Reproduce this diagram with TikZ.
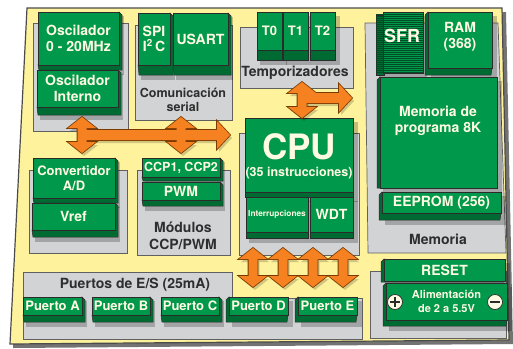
\documentclass[tikz,border=0pt]{standalone}
\usepackage{fontspec}
\setmainfont{TeX Gyre Heros}
\definecolor{bgy}{HTML}{FEF29C}
\definecolor{pan}{HTML}{D1D3D4}
\definecolor{grn}{HTML}{00984A}
\definecolor{grndk}{HTML}{006A33}
\definecolor{edge}{HTML}{2B2B2B}
\definecolor{cream}{HTML}{FFFBE3}
\definecolor{org}{HTML}{F68121}
\definecolor{orgdk}{HTML}{7A3A00}
\definecolor{lbl}{HTML}{2E2E2E}
\tikzset{
  panel/.style={fill=pan, draw=edge!75, line width=0.7pt},
  shade/.style={fill=black, opacity=0.22},
  side/.style={fill=grndk, draw=edge, line width=0.5pt},
  gb/.style={fill=grn, draw=edge, line width=0.5pt, text=cream, align=center, inner sep=0pt, outer sep=0pt},
  txt/.style={text=cream, align=center, inner sep=0pt},
  plbl/.style={text=lbl, align=center, inner sep=0pt},
  f8/.style={font=\bfseries\fontsize{8.3}{9}\selectfont},
  f11/.style={font=\bfseries\fontsize{11}{14.5}\selectfont},
  f12/.style={font=\bfseries\fontsize{12.5}{14}\selectfont},
  f13/.style={font=\bfseries\fontsize{13}{15}\selectfont},
  f14/.style={font=\bfseries\fontsize{14}{15.5}\selectfont},
  f14b/.style={font=\bfseries\fontsize{14}{16.5}\selectfont},
  f18/.style={font=\bfseries\fontsize{18}{20}\selectfont},
  f34/.style={font=\bfseries\fontsize{35}{38}\selectfont},
}
% name, x1, y1, x2, y2, depth, side (1 right, -1 left, 0 none), font style, text
\newcommand\gbox[9]{%
  \fill[shade] (#2+3,#3+4) rectangle (#4+5,#5+#6+5);
  \ifnum#7=1 \filldraw[side] (#2,#5) -- (#2+1,#5+#6) -- (#4+3,#5+#6) -- (#4+3,#3+3) -- (#4,#3) -- cycle;\fi
  \ifnum#7=-1 \filldraw[side] (#4,#5) -- (#4-1,#5+#6) -- (#2-3,#5+#6) -- (#2-3,#3+3) -- (#2,#3) -- cycle;\fi
  \ifnum#7=0 \filldraw[side] (#2,#5) -- (#2,#5+#6) -- (#4,#5+#6) -- (#4,#5) -- cycle;\fi
  \node[gb,#8, minimum width=#4-#2, minimum height=#5-#3] (#1) at ({(#2+#4)/2},{(#3+#5)/2}) {#9};
}
\newcommand\varr[4]{\path[#4] (#1,#2) -- (#1+14,#2+11) -- (#1+4.5,#2+11) -- (#1+4.5,#3-11) -- (#1+14,#3-11) -- (#1,#3) -- (#1-14,#3-11) -- (#1-4.5,#3-11) -- (#1-4.5,#2+11) -- (#1-14,#2+11) -- cycle;}
\newcommand\harr[4]{\path[#4] (#1,#3-5) -- (#2-13,#3-5) -- (#2-13,#3-14) -- (#2,#3) -- (#2-13,#3+14) -- (#2-13,#3+5) -- (#1,#3+5) -- cycle;}
\newcommand\allarrows[1]{%
  \varr{82}{117}{153}{#1}\varr{181}{117}{153}{#1}\harr{82}{230}{135}{#1}%
  \varr{302}{82}{118}{#1}\harr{302}{352}{98}{#1}%
  \foreach \ax in {253,283,313,343}{\varr{\ax}{248}{287}{#1}}}
\begin{document}
\begin{tikzpicture}[x=1pt,y=-1pt]
\useasboundingbox (0,0) rectangle (513,348);
% outer frame
\fill[black!55] (30,12) -- (506,12) -- (513,344) -- (13,348) -- cycle;
\filldraw[fill=bgy, draw=edge!85, line width=1.2pt] (27,8) -- (502,8) -- (509,340) -- (10,344) -- cycle;
% panels
\draw[panel] (33,23) rectangle (128,131);
\draw[panel] (135,25) rectangle (232,120);
\draw[panel] (240,27) rectangle (353,88);
\draw[panel] (365,23) -- (498,23) -- (506,253) -- (368,253) -- cycle;
\draw[panel] (29,170) rectangle (127,253);
\draw[panel] (137,170) rectangle (230,255);
\draw[panel] (239,133) rectangle (359,255);
\draw[panel] (23,272) -- (232,272) -- (232,298) -- (362,298) -- (362,339) -- (23,339) -- cycle;
\draw[panel] (370,271) rectangle (506,338);
% panel labels
\node[plbl,f12] (lcom) at (183,100) {Comunicación\\serial};
\node[plbl,f14] (ltmp) at (295,73) {Temporizadores};
\node[plbl,f14] (lmem) at (438,239) {Memoria};
\node[plbl,f14b] (lccp) at (183,236) {Módulos\\CCP/PWM};
\node[plbl,f14] (lio) at (135,285) {Puertos de E/S (25mA)};
% green boxes
\gbox{osc1}{38}{12}{119}{65}{5}{1}{f14}{Oscilador\\0 - 20MHz}
\gbox{osc2}{37}{70}{118}{107}{8}{1}{f14}{Oscilador\\Interno}
\gbox{spi}{138}{13}{170}{65}{10}{1}{f14}{SPI\\I\textsuperscript{2}\,C}
\gbox{usart}{173}{13}{228}{65}{10}{1}{f14}{USART}
\gbox{t0}{257}{12}{282}{50}{10}{0}{f13}{T0}
\gbox{t1}{283}{12}{308}{50}{10}{0}{f13}{T1}
\gbox{t2}{310}{12}{335}{50}{10}{0}{f13}{T2}
% SFR (stacked sheets)
\fill[shade] (379,16) rectangle (427,79);
\filldraw[side] (376,15) rectangle (384,75);
\filldraw[fill=grn, draw=edge, line width=0.5pt] (383,12) rectangle (423,73);
\foreach \yy in {14,16,...,72} \draw[grndk!70!black, line width=0.35pt] (376,\yy) -- (423,\yy);
\node[txt,f18] (sfr) at (402,36) {SFR};
\gbox{ram}{428}{12}{492}{68}{7}{-1}{f14}{}
\node[txt,f14] (ramt) at (460,37) {RAM\\(368)};
\gbox{mem}{380}{77}{497}{188}{0}{-1}{f14}{}
\node[txt,f14b] (memt) at (438,121) {Memoria de\\programa 8K};
\gbox{eeprom}{382}{192}{501}{213}{7}{-1}{f14}{EEPROM (256)}
\gbox{cpu}{245}{118}{353}{192}{5}{0}{f14}{}
\node[txt,f34] (cput) at (299,147) {CPU};
\node[txt,f12] (cpui) at (299,173) {(35 instrucciones)};
\gbox{intr}{246}{197}{308}{232}{6}{0}{f8}{Interrupciones}
\gbox{wdt}{310}{197}{353}{232}{6}{0}{f14}{WDT}
\gbox{conv}{33}{158}{115}{198}{5}{1}{f13}{Convertidor\\A/D}
\gbox{vref}{32}{203}{115}{230}{7}{1}{f14}{Vref}
\gbox{ccp}{142}{158}{220}{177}{4}{1}{f12}{CCP1, CCP2}
\gbox{pwm}{142}{182}{220}{200}{6}{1}{f14}{PWM}
\gbox{pa}{23}{297}{82}{315}{7}{1}{f13}{Puerto A}
\gbox{pb}{92}{297}{150}{315}{7}{1}{f13}{Puerto B}
\gbox{pc}{161}{297}{219}{315}{7}{1}{f13}{Puerto C}
\gbox{pd}{229}{297}{288}{315}{7}{-1}{f13}{Puerto D}
\gbox{pe}{298}{297}{357}{315}{7}{-1}{f13}{Puerto E}
\gbox{reset}{384}{259}{505}{281}{1}{-1}{f14}{RESET}
\gbox{alim}{386}{283}{507}{320}{6}{-1}{f11}{Alimentación\\de 2 a 5.5V}
\node[circle, draw=edge, line width=0.7pt, fill=cream, minimum size=15pt, inner sep=0pt] (plus) at (395,302) {};
\draw[edge, line width=1.1pt] ([yshift=-2.5pt]plus.north) -- ([yshift=2.5pt]plus.south) ([xshift=2.5pt]plus.west) -- ([xshift=-2.5pt]plus.east);
\node[circle, draw=edge, line width=0.7pt, fill=cream, minimum size=15pt, inner sep=0pt] (minus) at (495,302) {};
\draw[edge, line width=1.3pt] ([xshift=2.5pt]minus.west) -- ([xshift=-2.5pt]minus.east);
% arrows
\begin{scope}[shift={(2,3)}]
\allarrows{fill=black, opacity=0.18}
\end{scope}
\allarrows{draw=orgdk, line width=1.6pt}
\allarrows{fill=org}
\end{tikzpicture}
\end{document}
